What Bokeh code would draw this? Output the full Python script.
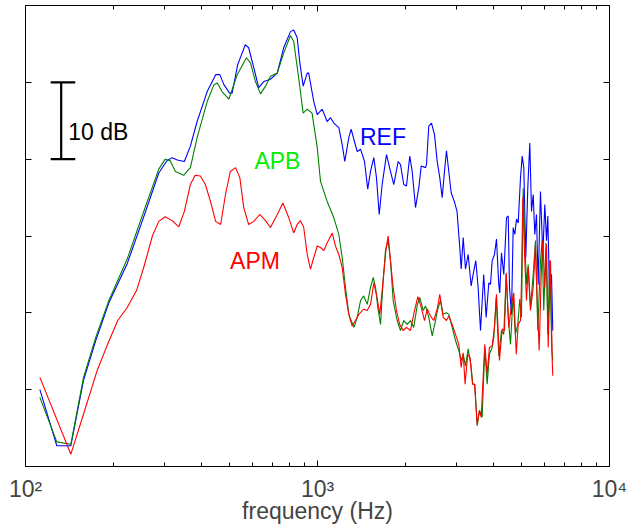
from bokeh.plotting import figure
from bokeh.models import LogAxis, LinearAxis, FixedTicker, Range1d
from bokeh.embed import file_html
from bokeh.resources import INLINE
from bokeh.core.properties import value

# ---------------- data (frequency in Hz, level in dB) ----------
REF_F = [112, 128, 143, 158, 174, 193, 223, 253, 286, 305,
         318, 331, 350, 367, 387, 419, 448, 463, 478, 500,
         510, 533, 566, 581, 605, 629, 655, 690, 728, 766,
         808, 829, 852, 869, 893, 922, 933, 971, 998, 1038,
         1079, 1108, 1137, 1183, 1215, 1240, 1280, 1304, 1338, 1368,
         1404, 1449, 1486, 1519, 1559, 1592, 1627, 1665, 1723, 1778,
         1825, 1889, 1924, 1974, 2017, 2070, 2110, 2166, 2223, 2266,
         2344, 2362, 2405, 2457, 2516, 2570, 2623, 2673, 2722, 2765,
         2816, 2870, 2941, 3005, 3071, 3105, 3155, 3212, 3281, 3359,
         3412, 3484, 3549, 3616, 3709, 3780, 3861, 3912, 3965, 4038,
         4102, 4176, 4209, 4266, 4345, 4439, 4499, 4545, 4617, 4679,
         4739, 4803, 4868, 4957, 5024, 5088, 5168, 5251, 5334, 5406,
         5479, 5548, 5623, 5698, 5802, 5910, 6004, 6086, 6149, 6231,
         6330, 6394]
REF_DB = [10.0, 2.7, 2.7, 11.2, 16.4, 21.3, 26.4, 32.3, 38.2, 39.8,
          40.2, 39.9, 39.7, 41.7, 44.9, 48.8, 51.0, 51.0, 49.7, 48.6,
          48.6, 52.3, 54.9, 54.5, 51.9, 49.3, 50.1, 50.4, 51.2, 54.5,
          56.6, 56.8, 55.8, 52.7, 49.5, 51.2, 51.2, 47.5, 45.8, 46.5,
          44.9, 45.4, 44.7, 44.1, 41.9, 39.7, 42.8, 43.9, 42.3, 41.0,
          41.3, 39.7, 36.1, 38.4, 40.2, 37.6, 32.8, 36.7, 40.6, 38.4,
          36.7, 39.7, 39.3, 36.7, 36.5, 40.4, 38.4, 33.7, 36.3, 39.1,
          38.9, 39.3, 44.3, 44.7, 43.2, 39.7, 37.6, 35.0, 38.4, 41.1,
          38.4, 35.6, 34.5, 33.2, 28.5, 25.7, 29.8, 25.7, 27.6, 23.5,
          25.0, 26.8, 23.3, 17.7, 25.0, 19.4, 23.9, 23.7, 26.8, 27.6,
          29.6, 23.7, 22.6, 27.8, 25.0, 32.4, 32.6, 23.3, 19.8, 31.1,
          30.2, 32.2, 31.7, 37.6, 40.4, 38.9, 27.2, 36.3, 42.1, 33.2,
          35.4, 30.2, 32.8, 23.7, 35.8, 27.6, 34.1, 29.4, 32.6, 22.4,
          25.0, 17.7]

APB_F = [112, 128, 143, 158, 174, 193, 223, 253, 286, 301,
         313, 326, 348, 367, 387, 419, 442, 454, 471, 497,
         531, 571, 590, 613, 638, 664, 690, 728, 766, 808,
         829, 862, 893, 922, 958, 998, 1024, 1079, 1137, 1183,
         1215, 1247, 1280, 1333, 1368, 1404, 1439, 1480, 1519, 1552,
         1580, 1609, 1644, 1678, 1709, 1746, 1778, 1816, 1874, 1924,
         1974, 2028, 2082, 2135, 2199, 2240, 2302, 2344, 2405, 2471,
         2536, 2582, 2638, 2693, 2765, 2816, 2892, 2969, 3047, 3105,
         3155, 3212, 3281, 3351, 3404, 3458, 3523, 3587, 3664, 3740,
         3811, 3880, 3965, 4016, 4093, 4176, 4266, 4345, 4428, 4499,
         4581, 4679, 4760, 4853, 4929, 4996, 5064, 5128, 5197, 5267,
         5363, 5479, 5579, 5681, 5802, 5879, 5955, 6061, 6149, 6245,
         6345, 6394]
APB_DB = [9.0, 3.2, 2.9, 11.6, 16.8, 21.6, 27.0, 33.0, 38.7, 40.0,
          39.8, 38.4, 37.9, 38.9, 42.8, 47.5, 49.7, 49.9, 48.8, 47.8,
          51.0, 53.2, 52.5, 50.1, 48.5, 49.5, 50.8, 51.2, 53.8, 56.1,
          55.3, 50.6, 46.0, 46.5, 46.0, 41.5, 37.1, 34.5, 32.4, 30.2,
          27.2, 23.3, 19.8, 18.1, 19.4, 21.6, 22.2, 21.1, 23.3, 24.6,
          23.3, 20.7, 18.5, 24.2, 28.1, 29.4, 26.8, 21.6, 19.0, 17.7,
          19.0, 18.5, 19.0, 18.1, 21.1, 22.0, 20.3, 20.9, 19.4, 17.0,
          19.0, 20.5, 21.6, 19.8, 20.0, 19.8, 18.1, 16.4, 15.1, 13.8,
          14.6, 13.1, 15.3, 13.3, 10.7, 10.7, 5.3, 7.3, 6.4, 15.5,
          10.7, 14.6, 15.5, 16.8, 22.0, 14.4, 17.7, 17.2, 25.0, 19.4,
          15.9, 22.4, 17.2, 18.5, 21.8, 19.4, 36.2, 29.4, 23.7, 26.3,
          20.7, 25.0, 29.4, 17.7, 26.8, 29.4, 20.3, 29.1, 17.2, 26.8,
          15.1, 13.8]

APM_F = [112, 143, 158, 176, 191, 207, 223, 240, 254, 272,
         286, 301, 318, 335, 350, 367, 381, 397, 413, 430,
         448, 466, 484, 503, 524, 542, 559, 581, 605, 634,
         664, 690, 724, 761, 797, 829, 852, 874, 897, 922,
         946, 971, 998, 1024, 1051, 1079, 1123, 1152, 1183, 1215,
         1247, 1280, 1314, 1349, 1386, 1439, 1480, 1519, 1559, 1592,
         1634, 1678, 1719, 1746, 1778, 1816, 1864, 1912, 1965, 2017,
         2082, 2135, 2206, 2266, 2325, 2378, 2434, 2502, 2570, 2623,
         2693, 2765, 2816, 2892, 2969, 3047, 3105, 3155, 3202, 3270,
         3328, 3396, 3449, 3523, 3587, 3636, 3740, 3811, 3880, 3965,
         4038, 4102, 4199, 4291, 4369, 4428, 4521, 4581, 4643, 4702,
         4792, 4868, 4957, 4996, 5048, 5128, 5197, 5267, 5363, 5479,
         5579, 5654, 5744, 5836, 5910, 6004, 6086, 6167, 6280, 6365,
         6394]
APM_DB = [11.6, 1.6, 6.8, 12.5, 15.9, 19.0, 20.7, 22.9, 25.9, 30.0,
          31.9, 32.5, 32.0, 31.2, 33.2, 36.7, 37.9, 37.8, 36.7, 34.5,
          31.9, 31.5, 35.4, 38.4, 38.9, 37.6, 33.7, 31.5, 31.9, 32.8,
          32.0, 31.1, 32.6, 34.3, 32.4, 30.4, 31.5, 32.0, 31.1, 27.6,
          25.7, 27.2, 28.7, 28.5, 28.1, 29.1, 30.4, 28.7, 27.6, 25.9,
          22.4, 19.8, 18.3, 19.0, 19.8, 20.5, 20.3, 21.1, 23.9, 22.4,
          19.8, 24.2, 28.5, 30.0, 26.8, 23.3, 20.3, 18.5, 17.7, 18.1,
          17.7, 19.8, 22.1, 20.7, 19.0, 20.5, 19.6, 19.0, 20.5, 22.4,
          19.4, 19.0, 19.6, 18.5, 17.2, 15.9, 12.9, 14.8, 10.7, 14.6,
          14.2, 10.7, 10.7, 5.5, 7.3, 6.4, 15.9, 12.0, 15.5, 15.7,
          18.1, 22.4, 13.8, 17.9, 17.7, 25.2, 18.1, 20.0, 21.6, 22.6,
          14.6, 18.5, 19.0, 24.2, 35.0, 26.8, 21.6, 25.9, 20.3, 23.3,
          28.9, 21.6, 15.1, 25.0, 29.4, 23.3, 28.9, 15.5, 26.8, 13.8,
          11.8]

# series labels placed in the plot
LABEL_TEXT = ["REF", "APB", "APM"]
LABEL_F = [1676, 729, 611]
LABEL_DB = [42.9, 39.8, 26.8]
LABEL_COLOR = ["#0000ff", "#00ee00", "#ff0000"]

# 10 dB scale bar
BAR_F = 132.5
BAR_CAP_F0 = 122
BAR_CAP_F1 = 148
BAR_LOW_DB = 40
BAR_HIGH_DB = 50
BAR_TEXT = "10 dB"
BAR_TEXT_F = 140
BAR_TEXT_DB = 43.5

X_TICKS = [100, 1000, 10000]
X_MINOR_TICKS = [200, 300, 400, 500, 600, 700, 800, 900,
                 2000, 3000, 4000, 5000, 6000, 7000, 8000, 9000]
X_TICK_LABELS = ["10\u00b2", "10\u00b3", "10\u2074"]
Y_TICKS = [10, 20, 30, 40, 50]

FONT = "Liberation Sans"
FS = "23px"

p = figure(width=627, height=527, x_axis_type="log",
           x_range=Range1d(100, 10000), y_range=Range1d(0, 60),
           output_backend="svg", toolbar_location=None,
           min_border_left=25, min_border_right=18, min_border_top=5,
           min_border_bottom=61, background_fill_color="white",
           border_fill_color="white", outline_line_color="black",
           outline_line_width=1)
p.grid.visible = False

# main (bottom) x axis
xa = p.xaxis[0]
xa.ticker = FixedTicker(ticks=X_TICKS, minor_ticks=X_MINOR_TICKS)
xa.major_label_overrides = {t: s for t, s in zip(X_TICKS, X_TICK_LABELS)}
xa.axis_label = "frequency (Hz)"
xa.axis_label_text_font = FONT
xa.axis_label_text_font_size = FS
xa.axis_label_text_font_style = "normal"
xa.axis_label_standoff = -7
xa.major_label_text_font = FONT
xa.major_label_text_font_size = FS
xa.major_label_standoff = 9

# left y axis (labels hidden)
ya = p.yaxis[0]
ya.ticker = FixedTicker(ticks=Y_TICKS, minor_ticks=[])

top_axis = LogAxis(ticker=FixedTicker(ticks=X_TICKS, minor_ticks=X_MINOR_TICKS))
right_axis = LinearAxis(ticker=FixedTicker(ticks=Y_TICKS, minor_ticks=[]))
p.add_layout(top_axis, "above")
p.add_layout(right_axis, "right")

for ax in [ya, top_axis, right_axis]:
    ax.major_label_text_font_size = "1px"
    ax.major_label_text_alpha = 0
    ax.major_label_standoff = 0

for ax in [xa, ya, top_axis, right_axis]:
    ax.axis_line_color = "black"
    ax.axis_line_width = 1
    ax.major_tick_line_color = "black"
    ax.minor_tick_line_color = "black"
    ax.major_tick_in = 6
    ax.major_tick_out = 0
    ax.minor_tick_in = 4
    ax.minor_tick_out = 0

# curves
p.line(REF_F, REF_DB, line_color="#0000ff", line_width=1.1)
p.line(APB_F, APB_DB, line_color="#008000", line_width=1.1)
p.line(APM_F, APM_DB, line_color="#ff0000", line_width=1.1)

# series labels
p.text(x=LABEL_F, y=LABEL_DB, text=LABEL_TEXT, text_color=LABEL_COLOR,
       text_font=value(FONT), text_font_size=FS,
       text_align="center", text_baseline="alphabetic")

# scale bar
p.segment(x0=[BAR_F, BAR_CAP_F0, BAR_CAP_F0], y0=[BAR_LOW_DB, BAR_LOW_DB, BAR_HIGH_DB],
          x1=[BAR_F, BAR_CAP_F1, BAR_CAP_F1], y1=[BAR_HIGH_DB, BAR_LOW_DB, BAR_HIGH_DB],
          line_color="black", line_width=2.2)
p.text(x=[BAR_TEXT_F], y=[BAR_TEXT_DB], text=[BAR_TEXT], text_color="black",
       text_font=value(FONT), text_font_size=FS,
       text_align="left", text_baseline="alphabetic")

open("out.html", "w").write(file_html(p, INLINE))
